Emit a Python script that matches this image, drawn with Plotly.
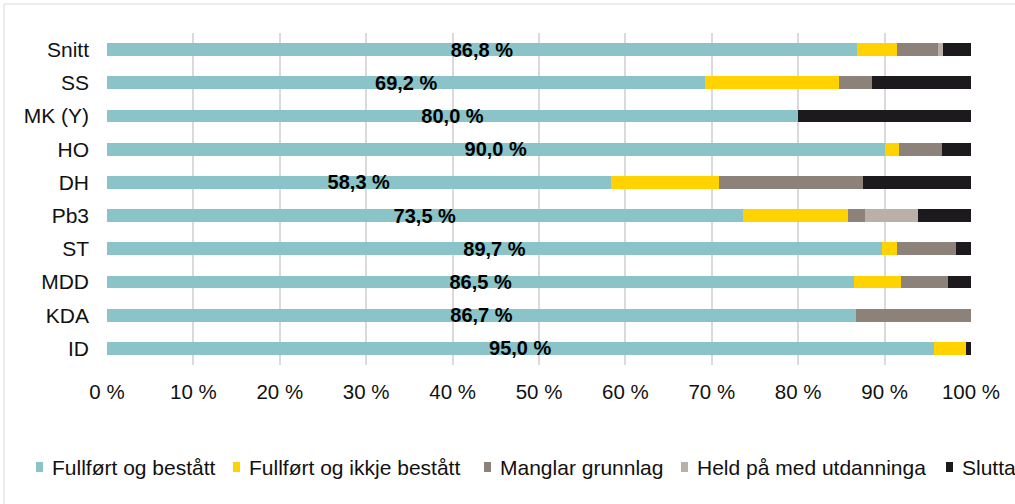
import plotly.graph_objects as go

# Programmes, listed top to bottom
categories = ["Snitt", "SS", "MK (Y)", "HO", "DH", "Pb3", "ST", "MDD", "KDA", "ID"]

# Share of students (%) per outcome
fullfort_bestatt = [86.8, 69.2, 80.0, 90.0, 58.3, 73.5, 89.7, 86.5, 86.7, 95.0]
fullfort_ikkje_bestatt = [4.6, 15.4, 0.0, 1.7, 12.5, 12.2, 1.7, 5.4, 0.0, 3.7]
manglar_grunnlag = [4.8, 3.8, 0.0, 5.0, 16.7, 2.0, 6.9, 5.4, 13.3, 0.0]
held_pa = [0.6, 0.0, 0.0, 0.0, 0.0, 6.1, 0.0, 0.0, 0.0, 0.0]
slutta = [3.2, 11.5, 20.0, 3.3, 12.5, 6.1, 1.7, 2.7, 0.0, 0.6]

series_names = ["Fullført og bestått", "Fullført og ikkje bestått", "Manglar grunnlag",
                "Held på med utdanninga", "Slutta"]
series_values = [fullfort_bestatt, fullfort_ikkje_bestatt, manglar_grunnlag, held_pa, slutta]
colors = ["#8AC4C8", "#FFD200", "#8C8279", "#BAB0A8", "#1C1A1D"]

x_ticks = list(range(0, 101, 10))

# Canvas geometry (pixels)
W, H = 1015, 504
L, R, T, B = 107, 971, 33, 365
FONT = "Liberation Sans, Arial, sans-serif"


def px_x(px):
    return (px - L) / (R - L)


def px_y(py):
    return (B - py) / (B - T)


fig = go.Figure()
for i, (name, vals, col) in enumerate(zip(series_names, series_values, colors)):
    kw = {}
    if i == 0:
        kw = dict(
            text=[f"{v:.1f}".replace(".", ",") + " %" for v in vals],
            textposition="inside",
            insidetextanchor="middle",
            constraintext="none",
            textangle=0,
            insidetextfont=dict(family=FONT, size=20, color="#000000", weight="bold"),
        )
    fig.add_trace(go.Bar(
        y=categories, x=vals, name=name, orientation="h",
        marker=dict(color=col, line=dict(width=0)),
        showlegend=False, **kw,
    ))

# Legend drawn along the bottom
legend_text_x = [51, 248, 499, 696, 961]
legend_cy = 467
shapes = []
annotations = []
for name, col, tx in zip(series_names, colors, legend_text_x):
    shapes.append(dict(type="rect", xref="paper", yref="paper",
                       x0=px_x(tx - 15), x1=px_x(tx - 8),
                       y0=px_y(legend_cy + 5), y1=px_y(legend_cy - 5),
                       fillcolor=col, line=dict(width=0)))
    annotations.append(dict(text=name, xref="paper", yref="paper",
                            x=px_x(tx - 1), y=px_y(legend_cy), xanchor="left", yanchor="middle",
                            showarrow=False, font=dict(family=FONT, size=21, color="#111111")))

# Chart frame
shapes.append(dict(type="line", xref="paper", yref="paper", x0=px_x(4), x1=px_x(W + 5),
                   y0=px_y(4), y1=px_y(4), line=dict(color="#D9D9D9", width=1)))
shapes.append(dict(type="line", xref="paper", yref="paper", x0=px_x(4), x1=px_x(4),
                   y0=px_y(4), y1=px_y(H + 5), line=dict(color="#D9D9D9", width=1)))

fig.update_layout(
    width=W, height=H,
    margin=dict(l=L, r=W - R, t=T, b=H - B),
    barmode="stack", barnorm="percent", bargap=0.61,
    plot_bgcolor="white", paper_bgcolor="white",
    font=dict(family=FONT, size=20, color="#111111"),
    shapes=shapes, annotations=annotations,
    xaxis=dict(range=[0, 100], tickvals=x_ticks, ticktext=[f"{v} %" for v in x_ticks],
               showgrid=True, gridcolor="#DCD8DC", gridwidth=1.5, zeroline=False,
               showline=False, ticks="", ticklabelstandoff=12,
               tickfont=dict(family=FONT, size=20.5, color="#111111")),
    yaxis=dict(categoryorder="array", categoryarray=categories, autorange="reversed",
               showgrid=False, zeroline=False, showline=False, ticks="",
               ticklabelstandoff=17,
               tickfont=dict(family=FONT, size=21, color="#111111")),
)

fig.write_html("out.html")
